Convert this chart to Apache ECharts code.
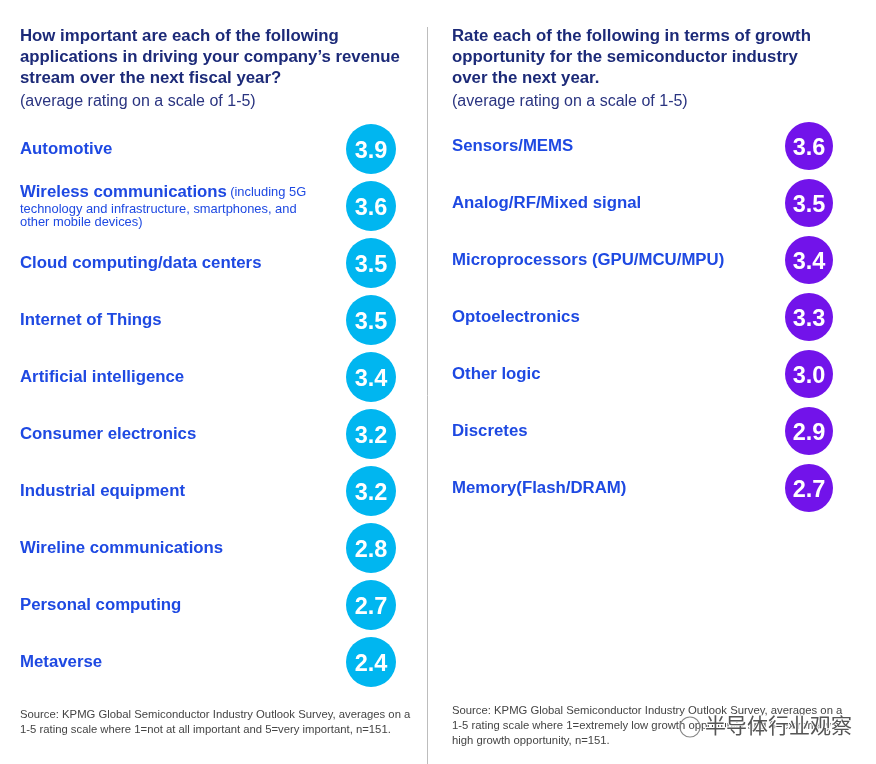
<!DOCTYPE html>
<html><head><meta charset="utf-8">
<script src="https://cdn.jsdelivr.net/npm/echarts@6/dist/echarts.min.js"></script>
<style>html,body{margin:0;padding:0;background:#fff}#c{width:876px;height:764px}</style>
</head><body><div id="c"></div>
<script>
const leftCategories = ['Automotive','Wireless communications','Cloud computing/data centers','Internet of Things','Artificial intelligence','Consumer electronics','Industrial equipment','Wireline communications','Personal computing','Metaverse'];
const leftRatings = [3.9,3.6,3.5,3.5,3.4,3.2,3.2,2.8,2.7,2.4];
const rightCategories = ['Sensors/MEMS','Analog/RF/Mixed signal','Microprocessors (GPU/MCU/MPU)','Optoelectronics','Other logic','Discretes','Memory(Flash/DRAM)'];
const rightRatings = [3.6,3.5,3.4,3.3,3.0,2.9,2.7];
const notes = {'Wireless communications': ['(including 5G','technology and infrastructure, smartphones, and','other mobile devices)']};
const leftTitle = ['How important are each of the following','applications in driving your company\u2019s revenue','stream over the next fiscal year?'];
const rightTitle = ['Rate each of the following in terms of growth','opportunity for the semiconductor industry','over the next year.'];
const subtitle = '(average rating on a scale of 1-5)';
const leftSource = ['Source: KPMG Global Semiconductor Industry Outlook Survey, averages on a','1-5 rating scale where 1=not at all important and 5=very important, n=151.'];
const rightSource = ['Source: KPMG Global Semiconductor Industry Outlook Survey, averages on a','1-5 rating scale where 1=extremely low growth opportunity and 5=extremely','high growth opportunity, n=151.'];
const watermark = '半导体行业观察';

const FONT = '"Liberation Sans", Arial, Helvetica, sans-serif';
const NAVY = '#1c2a78';
const BLUE = '#1e49e2';
const CYAN = '#00b6f0';
const PURPLE = '#7213ea';

function labelFmt(v){
  if (notes[v]) {
    const n = notes[v];
    return '{b|' + v + '} {s|' + n[0] + '}' + n.slice(1).map(l => '\n{s|' + l + '}').join('');
  }
  return '{b|' + v + '}';
}
const rich = {
  b: {fontFamily: FONT, fontWeight: 'bold', fontSize: 16.8, color: BLUE, lineHeight: 20},
  s: {fontFamily: FONT, fontSize: 12.9, color: BLUE, lineHeight: 13.5}
};
function yAx(idx, cats){
  return {type:'category', gridIndex: idx, data: cats, inverse: true,
    axisLine:{show:false}, axisTick:{show:false}, splitLine:{show:false},
    axisLabel:{inside:true, margin:0, formatter: labelFmt, rich: rich, verticalAlign:'middle'}};
}
function xAx(idx){
  return {type:'value', gridIndex: idx, min:0, max:1, show:false};
}
function sc(idx, cats, vals, color, size){
  return {type:'scatter', xAxisIndex: idx, yAxisIndex: idx, clip:false, symbol:'circle', symbolSize: size,
    itemStyle:{color: color, opacity:1},
    label:{show:true, position:'inside', align:'center', verticalAlign:'middle', offset:[0, 2.5],
      color:'#fff', fontFamily: FONT, fontWeight:'bold', fontSize: 23.5,
      formatter: p => p.value[2].toFixed(1)},
    emphasis:{disabled:true},
    data: vals.map((v,i) => [1, cats[i], v])};
}
function titleComp(lines, left){
  return {text: lines.join('\n'), subtext: subtitle, left: left, top: 26, padding: 0, itemGap: 3,
    textStyle:{fontFamily: FONT, fontWeight:'bold', fontSize: 16.8, color: NAVY, lineHeight: 21},
    subtextStyle:{fontFamily: FONT, fontSize: 16, color: '#2a3480', lineHeight: 20}};
}
const chart = echarts.init(document.getElementById('c'));
chart.setOption({
  backgroundColor:'#fff',
  animation:false,
  title:[titleComp(leftTitle, 20), titleComp(rightTitle, 452)],
  grid:[{left:20, top:120.5, width:351, height:570}, {left:452, top:117.5, width:357, height:399}],
  xAxis:[xAx(0), xAx(1)],
  yAxis:[yAx(0, leftCategories), yAx(1, rightCategories)],
  series:[sc(0, leftCategories, leftRatings, CYAN, 50), sc(1, rightCategories, rightRatings, PURPLE, 48)],
  graphic:[
    {type:'line', shape:{x1:427.5, y1:27, x2:427.5, y2:764}, style:{stroke:'#bdbdbd', lineWidth:1}},
    {type:'text', left:20, top:707, style:{text: leftSource.join('\n'), font:'11.3px ' + FONT, fill:'#444', lineHeight:15}},
    {type:'text', left:452, top:703, style:{text: rightSource.join('\n'), font:'11.3px ' + FONT, fill:'#444', lineHeight:15}},
    {type:'circle', shape:{cx:690, cy:727, r:10}, style:{fill:'none', stroke:'#888', lineWidth:1.2}},
    {type:'text', left:704, top:714, style:{text: watermark, font:'21px "Noto Sans CJK SC"', fill:'#555', stroke:'#fff', lineWidth:2}}
  ]
});
</script></body></html>
